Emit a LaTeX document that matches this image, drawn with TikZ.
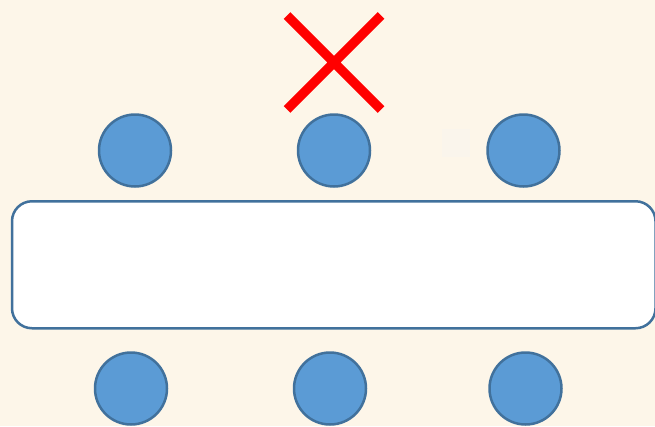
\documentclass[tikz,border=0pt]{standalone}
\usepackage{tikz}
\usetikzlibrary{shapes.misc}

\definecolor{paper}{RGB}{253,246,233}
\definecolor{smudge}{RGB}{250,245,236}
\definecolor{seatfill}{RGB}{91,155,213}
\definecolor{seatline}{RGB}{65,113,156}

\tikzset{
  seat/.style={circle,draw=seatline,fill=seatfill,line width=2.5pt,minimum size=72pt,inner sep=0pt},
  tablebox/.style={rectangle,rounded corners=20pt,draw=seatline,fill=white,line width=2.5pt,
    minimum width=643.5pt,minimum height=127pt,inner sep=0pt},
  nogo/.style={cross out,draw=red,line width=9.5pt,minimum width=94pt,minimum height=94pt,
    inner sep=0pt,outer sep=0pt}
}

\begin{document}
\begin{tikzpicture}[x=1pt,y=-1pt]
  \fill[paper] (0,0) rectangle (655,426);
  \useasboundingbox (0,0) rectangle (655,426);
  \fill[smudge] (442,129) rectangle (470,157);
  % table
  \node[tablebox] (table) at (333.75,264.75) {};
  % seats on the far side
  \node[seat] (top1) at (135,150.5) {};
  \node[seat] (top2) at (334,150.5) {};
  \node[seat] (top3) at (523.5,150.5) {};
  % seats on the near side
  \node[seat] (bot1) at (131,388.5) {};
  \node[seat] (bot2) at (330,388.5) {};
  \node[seat] (bot3) at (525.5,388.5) {};
  % no seat here
  \node[nogo] (cross) at (334,62.5) {};
\end{tikzpicture}
\end{document}
